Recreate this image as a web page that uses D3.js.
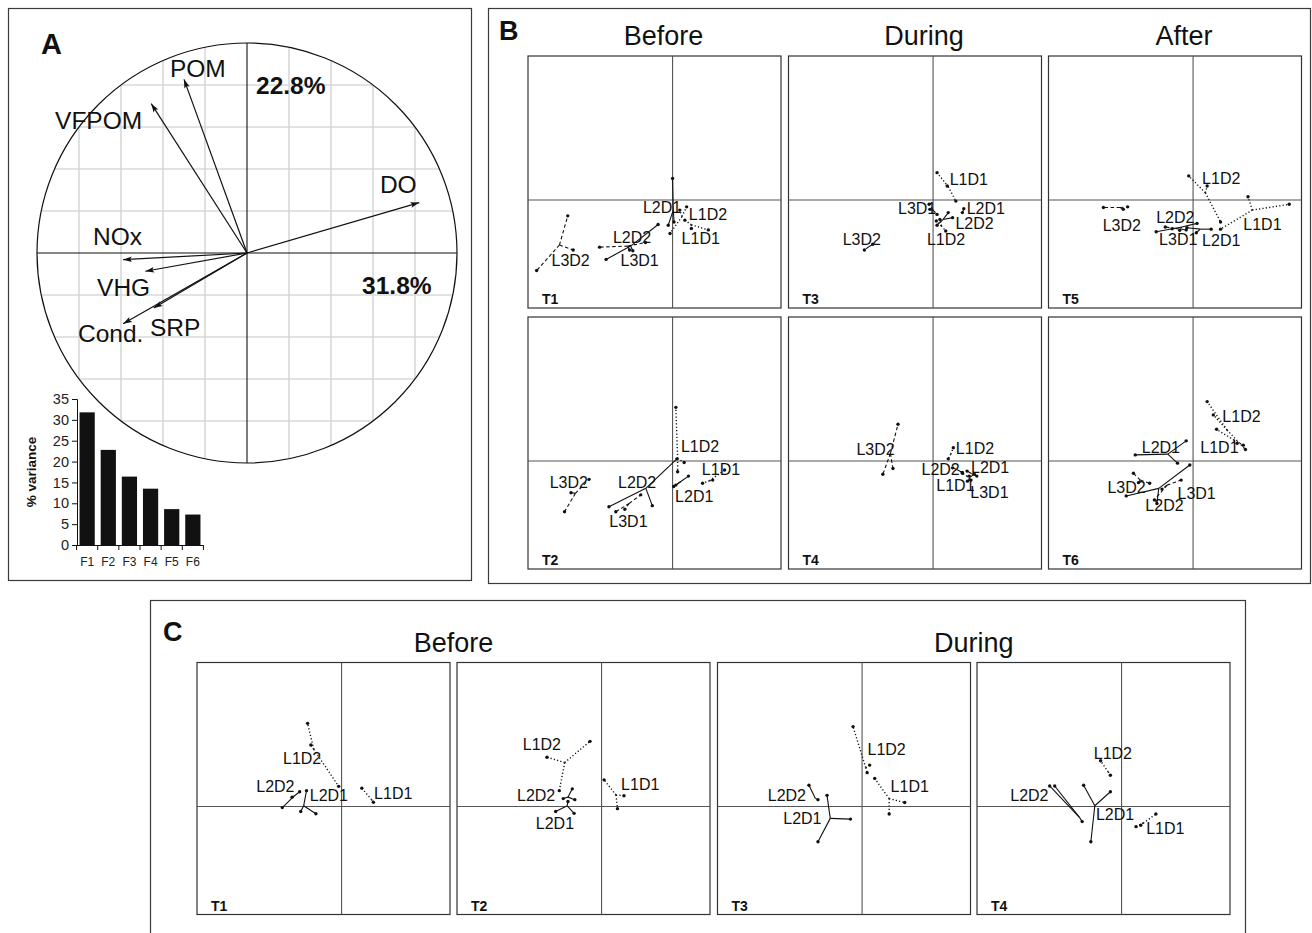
<!DOCTYPE html>
<html><head><meta charset="utf-8">
<script src="https://cdn.jsdelivr.net/npm/d3@7"></script>
<style>body{margin:0;background:#fff;} svg{display:block;font-family:"Liberation Sans",Arial,Helvetica,sans-serif;}</style>
</head><body><svg id="c" width="1312" height="933"></svg>
<script>
// ---------- Panel A data ----------
const variables = ["DO","POM","VFPOM","NOx","VHG","SRP","Cond."];
const loadF1 = [0.82,-0.30,-0.456,-0.59,-0.484,-0.444,-0.59];
const loadF2 = [0.24,0.827,0.711,-0.032,-0.087,-0.262,-0.337];
const varLabelAt = [[0.633,0.286],[-0.367,0.838],[-0.914,0.59],[-0.733,0.038],[-0.714,-0.205],[-0.462,-0.395],[-0.805,-0.424]];
const axisVariance = ["31.8%","22.8%"];
const axisVarianceAt = [[0.548,-0.195],[0.043,0.757]];
const factors = ["F1","F2","F3","F4","F5","F6"];
const variance = [31.8,22.8,16.4,13.5,8.6,7.3];
const varianceTicks = [0,5,10,15,20,25,30,35];

// ---------- Panel B data (site-date groups: centroid, replicate points, label anchor) ----------
const bTimes = ["T1","T2","T3","T4","T5","T6"];
const bPeriods = ["Before","During","After"];
const bT1 = [
 {site:"L2D1", c:[0.02,-0.28], p:[[0.0,0.60],[-0.12,-0.70],[0.04,-0.61]], lab:[-0.82,-0.35]},
 {site:"L1D2", c:[0.26,-0.46], p:[[0.39,-0.19],[-0.07,-0.93],[0.20,-0.28]], lab:[0.45,-0.56]},
 {site:"L1D1", c:[0.52,-0.69], p:[[0.99,-0.83],[0.52,-0.79],[0.34,-0.56]], lab:[0.25,-1.22]},
 {site:"L2D2", c:[-1.16,-1.28], p:[[-1.84,-1.65],[-0.40,-0.68],[-1.10,-1.41]], lab:[-1.65,-1.20]},
 {site:"L3D1", c:[-1.24,-1.28], p:[[-2.02,-1.31],[-0.75,-1.18],[-1.19,-1.39]], lab:[-1.44,-1.82]},
 {site:"L3D2", c:[-3.13,-1.25], p:[[-2.90,-0.44],[-3.76,-1.96],[-2.75,-1.39]], lab:[-3.35,-1.82]}
];
const bT2 = [
 {site:"L1D2", c:[0.14,0.07], p:[[0.09,1.49],[0.32,-0.04],[0.14,-0.30]], lab:[0.23,0.26]},
 {site:"L2D1", c:[0.23,-0.57], p:[[0.03,-0.71],[0.44,-0.42],[0.09,-0.67]], lab:[0.07,-1.13]},
 {site:"L1D1", c:[1.02,-0.55], p:[[0.83,-0.62],[1.44,-0.25],[1.11,-0.53]], lab:[0.81,-0.39]},
 {site:"L2D2", c:[-0.74,-0.76], p:[[-1.76,-1.27],[0.12,0.06],[-0.56,-1.24]], lab:[-1.51,-0.76]},
 {site:"L3D1", c:[-1.20,-1.18], p:[[-1.57,-1.41],[-1.32,-1.34],[-0.88,-0.94]], lab:[-1.75,-1.84]},
 {site:"L3D2", c:[-2.69,-0.90], p:[[-2.31,-0.51],[-2.99,-1.41],[-2.81,-0.88]], lab:[-3.40,-0.76]}
];
const bT3 = [
 {site:"L1D1", c:[0.42,0.37], p:[[0.11,0.76],[0.63,-0.03],[0.39,0.39]], lab:[0.46,0.41]},
 {site:"L2D1", c:[0.83,-0.31], p:[[0.81,-0.35],[0.85,-0.24]], lab:[0.93,-0.40]},
 {site:"L2D2", c:[0.28,-0.54], p:[[0.42,-0.35],[0.54,-0.49],[0.11,-0.70]], lab:[0.62,-0.81]},
 {site:"L3D1", c:[0.0,-0.28], p:[[-0.11,-0.12],[0.11,-0.40],[-0.09,-0.26]], lab:[-0.97,-0.38]},
 {site:"L1D2", c:[0.23,-0.72], p:[[0.35,-0.86],[0.09,-0.58],[0.19,-0.54]], lab:[-0.17,-1.26]},
 {site:"L3D2", c:[-1.78,-1.30], p:[[-1.90,-1.39],[-1.67,-1.23]], lab:[-2.5,-1.26]}
];
const bT4 = [
 {site:"L3D2", c:[-1.18,0.21], p:[[-0.97,1.02],[-1.39,-0.37],[-1.11,-0.21]], lab:[-2.12,0.16]},
 {site:"L1D2", c:[0.49,0.19], p:[[0.56,0.37],[0.42,0.06]], lab:[0.63,0.20]},
 {site:"L2D2", c:[0.68,-0.25], p:[[0.54,-0.19],[0.81,-0.32]], lab:[-0.32,-0.40]},
 {site:"L2D1", c:[1.06,-0.35], p:[[0.94,-0.28],[1.21,-0.42]], lab:[1.05,-0.32]},
 {site:"L1D1", c:[0.94,-0.42], p:[[0.81,-0.34],[1.05,-0.53]], lab:[0.09,-0.82]},
 {site:"L3D1", c:[1.03,-0.44], p:[[1.0,-0.42],[1.14,-0.37],[0.95,-0.56]], lab:[1.03,-1.02]}
];
const bT5 = [
 {site:"L1D2", c:[0.34,0.20], p:[[-0.12,0.67],[0.39,0.39],[0.76,-0.61]], lab:[0.25,0.44]},
 {site:"L1D1", c:[1.64,-0.28], p:[[0.76,-0.81],[2.66,-0.12],[1.52,0.09]], lab:[1.39,-0.84]},
 {site:"L2D1", c:[0.20,-0.81], p:[[0.50,-0.81],[-0.17,-0.77],[0.09,-0.91]], lab:[0.25,-1.28]},
 {site:"L2D2", c:[-0.31,-0.75], p:[[0.11,-0.65],[-1.02,-0.88],[-0.37,-0.84]], lab:[-1.02,-0.65]},
 {site:"L3D1", c:[-0.49,-0.79], p:[[-0.77,-0.75],[-0.19,-0.83],[-0.58,-0.80]], lab:[-0.94,-1.26]},
 {site:"L3D2", c:[-2.02,-0.21], p:[[-2.48,-0.21],[-1.81,-0.19],[-1.93,-0.26]], lab:[-2.5,-0.86]}
];
const bT6 = [
 {site:"L1D2", c:[0.94,0.86], p:[[0.39,1.65],[0.56,1.28],[1.45,0.32]], lab:[0.81,1.09]},
 {site:"L1D1", c:[1.13,0.58], p:[[0.65,0.88],[1.39,0.44],[1.22,0.49]], lab:[0.20,0.21]},
 {site:"L2D1", c:[-0.70,0.19], p:[[-1.60,0.17],[-0.19,0.56],[-0.43,-0.06]], lab:[-1.42,0.21]},
 {site:"L2D2", c:[-0.95,-0.76], p:[[-1.85,-0.97],[-0.09,-0.11],[-1.0,-1.18]], lab:[-1.32,-1.39]},
 {site:"L3D1", c:[-0.72,-0.67], p:[[-0.86,-0.78],[-0.33,-0.53],[-1.07,-1.08]], lab:[-0.43,-1.06]},
 {site:"L3D2", c:[-1.46,-0.53], p:[[-1.65,-0.34],[-1.20,-0.62],[-1.51,-0.60]], lab:[-2.37,-0.90]}
];

// ---------- Panel C data ----------
const cTimes = ["T1","T2","T3","T4"];
const cPeriods = ["Before","During"];
const cT1 = [
 {site:"L1D2", c:[-0.77,1.59], p:[[-0.94,2.31],[-0.85,1.71],[-0.08,0.56]], lab:[-1.62,1.19]},
 {site:"L1D1", c:[0.83,0.19], p:[[0.56,0.51],[0.88,0.12]], lab:[0.90,0.20]},
 {site:"L2D2", c:[-1.30,0.30], p:[[-1.64,-0.03],[-1.16,0.41],[-1.37,0.26]], lab:[-2.36,0.39]},
 {site:"L2D1", c:[-1.05,0.02], p:[[-0.97,0.44],[-1.13,-0.14],[-0.71,-0.20]], lab:[-0.88,0.14]}
];
const cT2 = [
 {site:"L1D2", c:[-1.02,1.22], p:[[-1.51,1.37],[-0.32,1.81],[-1.17,0.44]], lab:[-2.18,1.57]},
 {site:"L1D1", c:[0.40,0.32], p:[[0.07,0.74],[0.62,0.30],[0.44,-0.06]], lab:[0.54,0.46]},
 {site:"L2D2", c:[-0.93,0.26], p:[[-0.81,0.49],[-0.74,0.19],[-1.06,0.22]], lab:[-2.34,0.14]},
 {site:"L2D1", c:[-0.95,0.02], p:[[-1.27,-0.14],[-0.76,-0.19],[-0.93,0.14]], lab:[-1.82,-0.63]}
];
const cT3 = [
 {site:"L1D2", c:[0.10,1.08], p:[[-0.25,2.22],[0.21,1.15],[0.14,0.94]], lab:[0.15,1.43]},
 {site:"L1D1", c:[0.75,0.22], p:[[0.35,0.78],[1.18,0.11],[0.75,-0.21]], lab:[0.79,0.39]},
 {site:"L2D2", c:[-1.29,0.22], p:[[-1.47,0.59],[-1.22,0.19]], lab:[-2.61,0.16]},
 {site:"L2D1", c:[-0.88,-0.33], p:[[-0.97,0.31],[-0.32,-0.35],[-1.22,-0.98]], lab:[-2.18,-0.49]}
];
const cT4 = [
 {site:"L1D2", c:[-0.37,0.96], p:[[-0.58,1.27],[-0.31,0.87]], lab:[-0.77,1.33]},
 {site:"L2D2", c:[-1.16,-0.31], p:[[-1.99,0.57],[-1.85,0.57],[-1.09,-0.42]], lab:[-3.08,0.16]},
 {site:"L2D1", c:[-0.74,0.02], p:[[-1.05,0.59],[-0.31,0.41],[-0.85,-0.98]], lab:[-0.71,-0.37]},
 {site:"L1D1", c:[0.60,-0.46], p:[[0.40,-0.56],[0.95,-0.21],[0.53,-0.52]], lab:[0.68,-0.77]}
];

// ---------- drawing ----------
const svg = d3.select("#c");
const frameColor = "#3a3a3a";

function frame(x,y,w,h){
  svg.append("rect").attr("x",x).attr("y",y).attr("width",w).attr("height",h)
    .attr("fill","none").attr("stroke",frameColor).attr("stroke-width",1.2);
}
function txt(g,x,y,s,size,weight,anchor){
  return g.append("text").attr("x",x).attr("y",y).text(s)
    .attr("font-size",size).attr("font-weight",weight||"normal")
    .attr("text-anchor",anchor||"start").attr("fill","#111");
}

frame(8.5,8.5,463,572);
frame(488.5,8.5,822,575);
frame(150.5,600.5,1095,345);

// ---- Panel A ----
const gA = svg.append("g");
txt(gA,41,54,"A",29,"bold");
const ax = d3.scaleLinear().domain([-1,1]).range([37,457]);
const ay = d3.scaleLinear().domain([-1,1]).range([463,43]);
const R = ax(1)-ax(0);
svg.append("defs").append("clipPath").attr("id","circClip")
  .append("circle").attr("cx",ax(0)).attr("cy",ay(0)).attr("r",R);
const gridVals = d3.range(-8,9,2).map(d=>d/10).filter(d=>Math.abs(d)>1e-6);
const gGrid = gA.append("g").attr("clip-path","url(#circClip)");
gGrid.selectAll(".gv").data(gridVals).join("line")
  .attr("x1",d=>ax(d)).attr("x2",d=>ax(d)).attr("y1",ay(1)).attr("y2",ay(-1))
  .attr("stroke","#d8d8d8").attr("stroke-width",1.6);
gGrid.selectAll(".gh").data(gridVals).join("line")
  .attr("y1",d=>ay(d)).attr("y2",d=>ay(d)).attr("x1",ax(-1)).attr("x2",ax(1))
  .attr("stroke","#d8d8d8").attr("stroke-width",1.6);
gA.append("line").attr("x1",ax(-1)).attr("x2",ax(1)).attr("y1",ay(0)).attr("y2",ay(0)).attr("stroke","#111").attr("stroke-width",1.1);
gA.append("line").attr("x1",ax(0)).attr("x2",ax(0)).attr("y1",ay(1)).attr("y2",ay(-1)).attr("stroke","#111").attr("stroke-width",1.1);
gA.append("circle").attr("cx",ax(0)).attr("cy",ay(0)).attr("r",R).attr("fill","none").attr("stroke","#111").attr("stroke-width",1.2);

svg.select("defs").append("marker").attr("id","arr").attr("viewBox","0 -4 10 8")
  .attr("refX",10).attr("refY",0).attr("markerWidth",9).attr("markerHeight",7)
  .attr("markerUnits","userSpaceOnUse").attr("orient","auto")
  .append("path").attr("d","M0,-3.2L10,0L0,3.2L2,0Z").attr("fill","#111");

gA.selectAll(".arrow").data(variables).join("line")
  .attr("x1",ax(0)).attr("y1",ay(0))
  .attr("x2",(d,i)=>ax(loadF1[i])).attr("y2",(d,i)=>ay(loadF2[i]))
  .attr("stroke","#111").attr("stroke-width",1.2).attr("marker-end","url(#arr)");
variables.forEach((v,i)=>txt(gA,ax(varLabelAt[i][0]),ay(varLabelAt[i][1]),v,24.5,"normal"));
axisVariance.forEach((v,i)=>txt(gA,ax(axisVarianceAt[i][0]),ay(axisVarianceAt[i][1]),v,24.5,"bold"));

// scree bar chart
const bx = d3.scaleBand().domain(factors).range([77,203]).paddingInner(0.28).paddingOuter(0.12);
const by = d3.scaleLinear().domain([0,35]).range([545,399]);
const gBar = gA.append("g");
gBar.selectAll("rect").data(variance).join("rect")
  .attr("x",(d,i)=>bx(factors[i])).attr("width",bx.bandwidth())
  .attr("y",d=>by(d)).attr("height",d=>by(0)-by(d)).attr("fill","#111");
const yAxis = gBar.append("g").attr("transform","translate(77,0)")
  .call(d3.axisLeft(by).tickValues(varianceTicks).tickSize(5).tickPadding(3));
yAxis.selectAll("text").attr("font-size",14.5).attr("fill","#222").attr("font-family","Liberation Sans, Arial, sans-serif");
const xAxis = gBar.append("g").attr("transform","translate(0,545)")
  .call(d3.axisBottom(bx).tickSize(0).tickPadding(12));
xAxis.selectAll("text").attr("font-size",12).attr("fill","#222").attr("font-family","Liberation Sans, Arial, sans-serif");
xAxis.select(".domain").remove();
gBar.append("line").attr("x1",77).attr("x2",203).attr("y1",545.5).attr("y2",545.5).attr("stroke","#111");
const bounds = factors.map(f=>bx(f)-bx.step()*bx.paddingInner()/2).concat([bx(factors[5])+bx.bandwidth()+bx.step()*bx.paddingInner()/2]);
gBar.selectAll(".xt").data(bounds).join("line")
  .attr("x1",d=>d).attr("x2",d=>d).attr("y1",545).attr("y2",550).attr("stroke","#111");
yAxis.selectAll("line,path").attr("stroke","#111");
gBar.append("text").attr("transform","translate(36,472) rotate(-90)")
  .attr("text-anchor","middle").attr("font-size",13.5).attr("font-weight","bold").attr("fill","#111").text("% variance");

// ---- star plots ----
const W = 253, H = 252;
const dash = {L1:"1.2,2.2", L2:null, L3:"3.5,2.5"};
function starPanel(left, top, name, groups){
  const g = svg.append("g");
  const x = d3.scaleLinear().domain([-4,3]).range([left,left+W]);
  const y = d3.scaleLinear().domain([-3,4]).range([top+H,top]);
  g.append("rect").attr("x",left).attr("y",top).attr("width",W).attr("height",H)
    .attr("fill","none").attr("stroke","#333").attr("stroke-width",1.2);
  g.append("line").attr("x1",left).attr("x2",left+W).attr("y1",y(0)).attr("y2",y(0)).attr("stroke","#555").attr("stroke-width",1.1);
  g.append("line").attr("x1",x(0)).attr("x2",x(0)).attr("y1",top).attr("y2",top+H).attr("stroke","#555").attr("stroke-width",1.1);
  groups.forEach(gr=>{
    const style = dash[gr.site.slice(0,2)];
    gr.p.forEach(pt=>{
      g.append("line").attr("x1",x(gr.c[0])).attr("y1",y(gr.c[1]))
        .attr("x2",x(pt[0])).attr("y2",y(pt[1]))
        .attr("stroke","#111").attr("stroke-width",style==="1.2,2.2"?1.4:1.1)
        .attr("stroke-dasharray",style);
      g.append("circle").attr("cx",x(pt[0])).attr("cy",y(pt[1])).attr("r",1.7).attr("fill","#111");
    });
  });
  groups.forEach(gr=>txt(g,x(gr.lab[0]),y(gr.lab[1]),gr.site,16,"normal"));
  txt(g,left+14,top+H-4,name,14,"bold");
}

// Panel B
txt(svg,499,40,"B",27,"bold");
const bData = [bT1,bT2,bT3,bT4,bT5,bT6];
const bLefts = [528,788.5,1048.5], bTops = [56,317];
bPeriods.forEach((p,i)=>txt(svg,bLefts[i]+W/2+9,45,p,27,"normal","middle"));
bTimes.forEach((t,i)=>starPanel(bLefts[Math.floor(i/2)], bTops[i%2], t, bData[i]));

// Panel C
txt(svg,163,641,"C",27,"bold");
const cData = [cT1,cT2,cT3,cT4];
const cLefts = [197,457,717.5,977], cTop = 662.5;
cPeriods.forEach((p,i)=>txt(svg,(cLefts[2*i]+cLefts[2*i+1]+W)/2,652,p,27,"normal","middle"));
cTimes.forEach((t,i)=>starPanel(cLefts[i], cTop, t, cData[i]));
</script></body></html>
